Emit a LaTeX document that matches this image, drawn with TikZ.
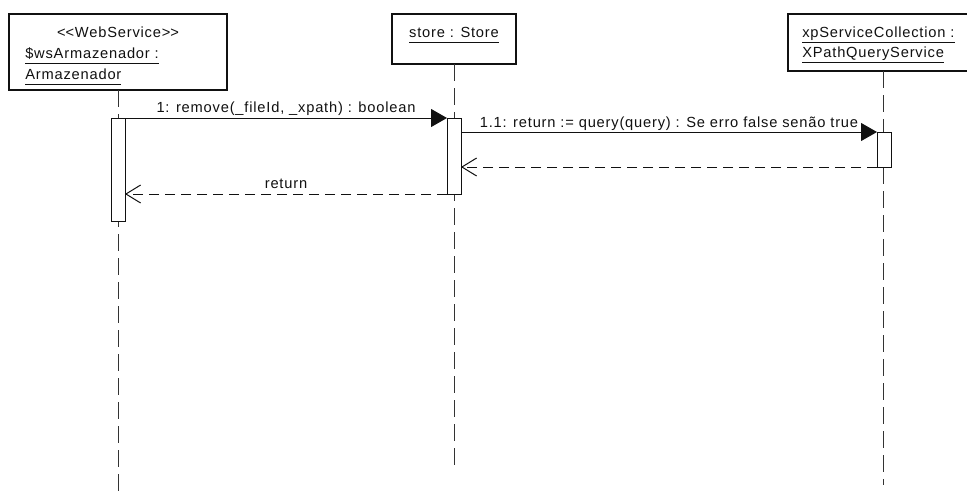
\documentclass[tikz,border=0pt]{standalone}
\usepackage{fontspec}
\setmainfont{Liberation Sans}[LetterSpace=5.5]
\usetikzlibrary{arrows.meta}
\definecolor{SeqInk}{HTML}{111111}
\definecolor{SeqLife}{HTML}{333333}
\newcommand{\objname}[1]{\underline{#1\vphantom{gy}}}
\tikzset{
  seqobject/.style={
    draw=SeqInk,
    line width=1.9pt,
    fill=white,
    inner sep=0pt,
    outer sep=0pt
  },
  seqactive/.style={
    draw=SeqInk,
    line width=.75pt,
    fill=white,
    minimum width=10.5pt,
    inner sep=0pt,
    outer sep=0pt
  },
  seqlife/.style={draw=SeqLife,line width=.75pt,dash pattern=on 12.75pt off 5.25pt},
  seqcall/.style={draw=SeqInk,line width=.75pt,-{Triangle[length=12pt,width=13.5pt]}},
  seqreply/.style={
    draw=SeqInk,
    line width=.75pt,
    dash pattern=on 7.5pt off 4.5pt,
    -{Straight Barb[length=11pt,width=13.5pt]}
  },
  seqtext/.style={font=\fontsize{11}{13}\selectfont,inner sep=0pt,text=SeqInk}
}

\begin{document}
\begin{tikzpicture}[x=.75pt,y=-.75pt]
    \clip (0,0) rectangle (967,497);
    \fill[white] (0,0) rectangle (967,497);
    % participants
    \node[seqobject,minimum width=163.5pt,minimum height=57pt] (ws) at (118,52) {};
    \node[seqobject,minimum width=93pt,minimum height=37.5pt] (store) at (454,39) {};
    \node[seqobject,minimum width=142.5pt,minimum height=42.75pt] (xp) at (883,42.5) {};
    \node[seqtext,anchor=base] (wsStereo) at (118,37)
      {\textless\kern0pt\textless WebService\textgreater\kern0pt\textgreater};
    \node[seqtext,anchor=base west] (wsName) at (25,58) {\objname{\$wsArmazenador :}};
    \node[seqtext,anchor=base west] (wsType) at (25,79) {\objname{Armazenador}};
    \node[seqtext,anchor=base] (storeName) at (454,37) {\objname{store : Store}};
    \node[seqtext,anchor=base west] (xpName) at (802,37) {\objname{xpServiceCollection :}};
    \node[seqtext,anchor=base west] (xpType) at (802,57) {\objname{XPathQueryService}};
    % lifelines
    \coordinate (wsEnd) at (118,497);
    \coordinate (storeEnd) at (454,470);
    \coordinate (xpEnd) at (883,485);
    \draw[seqlife] (ws.south) -- (wsEnd);
    \draw[seqlife] (store.south) -- (storeEnd);
    \draw[seqlife] (xp.south) -- (xpEnd);
    % activations
    \node[seqactive,minimum height=77.25pt] (wsAct) at (118,169.5) {};
    \node[seqactive,minimum height=57pt] (storeAct) at (454,156) {};
    \node[seqactive,minimum height=26.25pt] (xpAct) at (884,149.5) {};
    % messages
    \draw[seqcall] (wsAct.north east) --
      node[seqtext,anchor=base,yshift=4.5pt] {1: remove(\_fileId, \_xpath) : boolean}
      (storeAct.north west);
    \draw[seqcall] (storeAct.east |- xpAct.north) --
      node[seqtext,anchor=base,yshift=3.75pt] {1.1: return := query(query) : Se erro false senão true}
      (xpAct.north west);
    \draw[seqreply] (xpAct.south west) -- (storeAct.east |- xpAct.south);
    \draw[seqreply] (storeAct.south west) --
      node[seqtext,anchor=base,yshift=4.5pt] {return}
      (wsAct.east |- storeAct.south);
\end{tikzpicture}
\end{document}
